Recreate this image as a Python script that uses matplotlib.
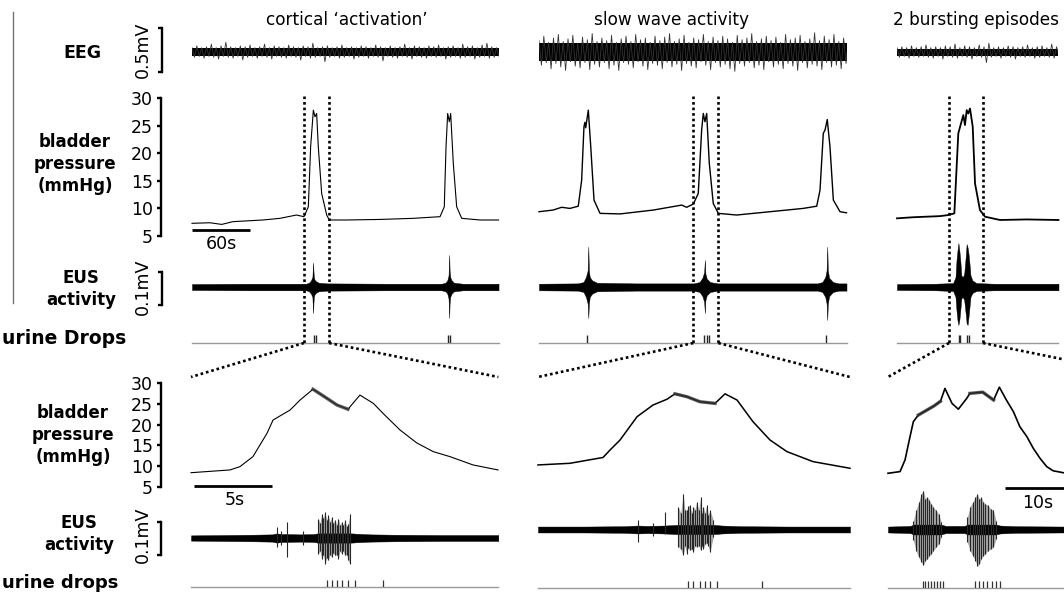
import numpy as np
import matplotlib
matplotlib.use("Agg")
import matplotlib.pyplot as plt
from matplotlib.lines import Line2D

plt.rcParams['font.family'] = ['DejaVu Sans']

# ---------------------------------------------------------------- data
titles = ["cortical \u2018activation\u2019", "slow wave activity", "2 bursting episodes"]
top_dur = [317, 318, 167]          # s shown in upper traces
bot_dur = [19.7, 20.0, 41.0]       # s shown in expanded traces
zoom_win = [(115.8, 141.7), (159.6, 185.4), (53.8, 88.9)]   # s, windows expanded below

# EEG envelope (mV), read every 5 s, and dense core half-width (mV)
eeg_step = 5.0
eeg_core = [0.042, 0.1, 0.04]
eeg1_up = [0.05,0.07,0.05,0.06,0.09,0.05,0.07,0.11,0.06,0.05,0.07,0.06,0.08,0.05,0.06,0.09,0.05,0.07,0.06,0.05,0.08,0.06,0.05,0.07,0.06,0.10,0.05,0.06,0.07,0.05,0.06,0.08,0.05,0.06,0.05,0.07,0.06,0.05,0.08,0.06,0.05,0.07,0.05,0.06,0.09,0.05,0.07,0.06,0.05,0.07,0.06,0.08,0.05,0.06,0.07,0.05,0.09,0.06,0.07,0.05,0.08,0.10,0.06,0.05,0.06]
eeg1_dn = [0.06,0.05,0.07,0.05,0.06,0.08,0.05,0.06,0.07,0.05,0.09,0.06,0.05,0.07,0.05,0.06,0.08,0.05,0.06,0.07,0.05,0.06,0.09,0.05,0.07,0.06,0.05,0.11,0.06,0.05,0.07,0.06,0.05,0.08,0.06,0.05,0.07,0.05,0.06,0.10,0.05,0.06,0.07,0.05,0.06,0.08,0.05,0.06,0.07,0.05,0.06,0.05,0.08,0.06,0.05,0.07,0.06,0.05,0.08,0.06,0.05,0.07,0.06,0.05,0.06]
eeg2_up = [0.13,0.18,0.11,0.16,0.20,0.12,0.15,0.19,0.10,0.17,0.14,0.21,0.12,0.16,0.13,0.19,0.11,0.15,0.18,0.12,0.20,0.14,0.16,0.11,0.18,0.13,0.17,0.21,0.12,0.15,0.19,0.11,0.16,0.14,0.20,0.12,0.17,0.13,0.18,0.15,0.11,0.19,0.14,0.16,0.21,0.12,0.15,0.18,0.13,0.17,0.11,0.20,0.14,0.16,0.19,0.12,0.15,0.22,0.13,0.18,0.14,0.20,0.12,0.16,0.15]
eeg2_dn = [0.15,0.12,0.19,0.13,0.17,0.21,0.11,0.16,0.18,0.12,0.20,0.14,0.17,0.12,0.19,0.15,0.21,0.12,0.14,0.18,0.11,0.16,0.20,0.13,0.15,0.19,0.12,0.17,0.14,0.21,0.13,0.16,0.18,0.11,0.15,0.20,0.12,0.17,0.14,0.19,0.22,0.13,0.16,0.12,0.18,0.15,0.20,0.11,0.17,0.14,0.19,0.13,0.16,0.21,0.12,0.18,0.14,0.16,0.20,0.12,0.17,0.15,0.19,0.13,0.14]
eeg3_up = [0.05,0.06,0.05,0.07,0.05,0.06,0.08,0.05,0.06,0.05,0.07,0.06,0.09,0.05,0.07,0.06,0.05,0.08,0.06,0.10,0.05,0.06,0.05,0.07,0.06,0.05,0.06,0.08,0.05,0.06,0.07,0.05,0.09,0.06,0.05]
eeg3_dn = [0.06,0.05,0.07,0.05,0.06,0.05,0.06,0.07,0.05,0.08,0.05,0.06,0.07,0.05,0.06,0.08,0.05,0.06,0.12,0.06,0.05,0.07,0.05,0.06,0.08,0.05,0.06,0.05,0.07,0.06,0.05,0.06,0.07,0.05,0.06]

# bladder pressure, upper traces (s, mmHg)
p1_top_t = [0, 18.6, 30.7, 42.4, 73.4, 91, 108, 115.8, 120.3, 122.7, 125.5, 127.2, 128.9, 130.6, 134.1, 139.3, 142, 160, 194.4, 228.8, 256.5, 260.9, 262.7, 264.4, 266.1, 267.5, 270.2, 273.7, 278.9, 297.8, 317]
p1_top_v = [7.3, 7.4, 7.1, 7.6, 7.9, 8.2, 8.8, 8.5, 10.3, 21.2, 27.8, 26.6, 27.2, 21.2, 12.7, 8.8, 7.9, 7.9, 8.0, 8.2, 8.5, 10.3, 21.2, 27.2, 25.7, 27.2, 18.2, 10.3, 8.2, 7.9, 7.9]
p2_top_t = [0, 14.5, 23.4, 32, 40.6, 44.1, 46.5, 47.5, 48.3, 51, 53.5, 56.9, 63.1, 83.8, 118.2, 147.6, 152.7, 159.6, 164.7, 168.2, 169.9, 171.6, 173.4, 176.1, 180.2, 185.4, 204.4, 238.9, 273.3, 287.2, 290.6, 294, 295.8, 298.1, 300.9, 304.4, 311.3, 318]
p2_top_v = [9.4, 9.7, 10.2, 10.0, 10.4, 15.1, 24.8, 25.6, 24.6, 27.8, 21.2, 11.5, 9.1, 9.0, 9.7, 10.6, 10.2, 10.8, 12.7, 24.2, 27.2, 25.7, 27.2, 18.2, 10.9, 9.1, 8.8, 9.4, 10.0, 10.4, 13.3, 23.6, 24.2, 26.1, 21.2, 11.5, 9.4, 9.2]
p3_top_t = [0, 16.9, 30.7, 44.5, 53.1, 59.3, 61.7, 63.4, 66.2, 68.6, 70.3, 72.1, 73.7, 75.5, 78.3, 80.7, 85.8, 91, 106.5, 134.1, 167]
p3_top_v = [8.2, 8.4, 8.5, 8.6, 8.8, 9.1, 17.6, 23.6, 25.4, 26.9, 25.1, 27.8, 27.2, 28.1, 24.8, 14.5, 9.7, 8.5, 7.9, 8.0, 7.9]

# EUS envelope, upper traces (s, mV)
eus1_top_t  = [0, 60, 118, 121, 123, 124.5, 125.2, 125.6, 126.0, 126.8, 128, 131, 140, 200, 258, 262, 264, 265.3, 266.0, 266.4, 267.0, 268.5, 271, 280, 317]
eus1_top_up = [.009, .010, .010, .013, .02, .03, .074, .05, .03, .022, .018, .013, .011, .010, .010, .013, .02, .035, .097, .05, .03, .02, .013, .010, .010]
eus1_top_dn = [.009, .010, .010, .013, .02, .03, .079, .05, .03, .022, .018, .013, .011, .010, .010, .013, .02, .035, .094, .05, .03, .02, .013, .010, .010]
eus2_top_t  = [0, 40, 46, 48.5, 50.3, 51, 51.6, 52.5, 55, 60, 100, 160, 166, 169, 170.8, 171.5, 172.1, 173.5, 177, 185, 240, 288, 293, 296, 297.4, 298.1, 298.7, 300, 304, 310, 318]
eus2_top_up = [.010, .011, .015, .03, .05, .122, .05, .03, .02, .013, .011, .011, .015, .028, .045, .082, .04, .025, .015, .011, .011, .011, .015, .03, .05, .122, .05, .028, .015, .011, .011]
eus2_top_dn = [.010, .011, .015, .03, .05, .094, .05, .03, .02, .013, .011, .011, .015, .028, .045, .079, .04, .025, .015, .011, .011, .011, .015, .03, .05, .10, .05, .028, .015, .011, .011]
eus3_top_t  = [0, 40, 58, 60.5, 61.5, 62.5, 63.5, 64.5, 65.5, 66.5, 68, 69.5, 71, 72, 73, 74, 75, 76, 78, 82, 100, 167]
eus3_top_up = [.009, .010, .012, .03, .08, .11, .133, .11, .08, .035, .03, .04, .09, .13, .12, .10, .07, .035, .02, .012, .010, .010]
eus3_top_dn = [.009, .010, .012, .03, .07, .10, .115, .10, .07, .035, .03, .04, .08, .11, .115, .09, .06, .03, .018, .012, .010, .010]

# urine drops, upper traces (s)
drops1_top = [126.6, 128.6, 265.0, 266.8]
drops2_top = [49.3, 171.0, 173.4, 175.8, 296.8]
drops3_top = [63.8, 65.5, 72.0, 74.5]

# bladder pressure, expanded traces (s, mmHg)
p1_bot_t = [0, 2.5, 3.14, 3.97, 4.87, 5.26, 6.35, 6.99, 7.82, 8.72, 9.36, 10.06, 10.83, 11.69, 12.31, 13.4, 14.47, 15.53, 16.6, 18.08, 19.68]
p1_bot_v = [8.44, 9.1, 9.9, 12.3, 17.9, 21.1, 23.5, 25.9, 28.5, 26.3, 24.7, 23.7, 27.1, 25.1, 22.7, 18.7, 15.6, 13.5, 12.3, 10.3, 9.1]
p2_bot_t = [0, 2.05, 4.17, 4.62, 5.26, 6.35, 7.37, 8.27, 8.78, 9.55, 10.38, 11.35, 11.99, 12.76, 13.78, 14.87, 15.96, 17.63, 20.0]
p2_bot_v = [10.3, 10.7, 12.1, 13.9, 16.3, 21.9, 24.7, 26.1, 27.4, 26.7, 25.5, 25.1, 27.4, 25.9, 20.7, 16.3, 13.5, 11.1, 9.5]
p3_bot_t = [0, 1.88, 2.66, 3.44, 3.96, 4.74, 6.09, 7.2, 8.2, 8.9, 10.0, 10.99, 12.3, 12.8, 14.8, 16.5, 17.4, 18.5, 19.6, 20.6, 21.7, 22.7, 23.75, 24.8, 25.8, 27.5, 30]
p3_bot_v = [8.3, 8.7, 11.5, 17.1, 20.7, 22.3, 23.5, 24.5, 25.6, 28.7, 25.1, 23.7, 26.3, 27.5, 27.8, 25.9, 29.0, 25.9, 23.1, 19.5, 17.1, 14.3, 11.9, 9.9, 8.9, 8.4, 8.2]
ripple_bot = [[(7.82, 10.06)], [(8.78, 11.35)], [(4.74, 8.2), (12.8, 16.5)]]

# EUS, expanded traces: background band (s, mV half-width)
eus1_bot_core_t = [0, 2, 4, 5.2, 5.5, 5.8, 6.2, 7, 7.9, 8.1, 10.3, 10.6, 11.5, 13, 16, 19.7]
eus1_bot_core_h = [0.008, 0.009, 0.010, 0.011, 0.014, 0.012, 0.012, 0.011, 0.012, 0.014, 0.014, 0.013, 0.011, 0.010, 0.009, 0.009]
eus2_bot_core_t = [0, 3, 5.5, 6.4, 7, 8.1, 8.9, 11.3, 11.8, 13, 16, 20]
eus2_bot_core_h = [0.009, 0.009, 0.010, 0.012, 0.011, 0.012, 0.014, 0.014, 0.012, 0.010, 0.009, 0.009]
eus3_bot_core_t = [0, 2, 3.5, 4, 8.3, 9, 12, 12.4, 16.9, 17.5, 20, 27.5, 32]
eus3_bot_core_h = [0.009, 0.010, 0.011, 0.015, 0.015, 0.011, 0.011, 0.015, 0.015, 0.012, 0.010, 0.009, 0.009]
# EUS spikes (s, mV up, mV down)
eus1_spk_t  = [5.49, 5.8, 6.17, 7.2, 8.16, 8.27, 8.38, 8.49, 8.59, 8.70, 8.80, 8.91, 9.02, 9.12, 9.23, 9.34, 9.44, 9.55, 9.66, 9.76, 9.87, 9.98, 10.08, 10.19]
eus1_spk_up = [0.033, 0.02, 0.048, 0.02, 0.059, 0.045, 0.074, 0.06, 0.079, 0.055, 0.069, 0.05, 0.064, 0.045, 0.054, 0.04, 0.059, 0.04, 0.048, 0.04, 0.054, 0.035, 0.043, 0.074]
eus1_spk_dn = [0.027, 0.02, 0.058, 0.02, 0.047, 0.04, 0.063, 0.05, 0.078, 0.06, 0.068, 0.05, 0.058, 0.045, 0.053, 0.05, 0.063, 0.04, 0.047, 0.04, 0.053, 0.05, 0.068, 0.078]
eus2_spk_t  = [6.43, 7.4, 8.14, 8.99, 9.15, 9.31, 9.42, 9.53, 9.63, 9.74, 9.85, 9.96, 10.06, 10.17, 10.30, 10.43, 10.52, 10.60, 10.70, 10.81, 10.92, 11.03, 11.24]
eus2_spk_up = [0.030, 0.02, 0.053, 0.069, 0.05, 0.109, 0.06, 0.058, 0.07, 0.074, 0.05, 0.069, 0.06, 0.084, 0.06, 0.099, 0.05, 0.069, 0.05, 0.074, 0.045, 0.058, 0.028]
eus2_spk_dn = [0.037, 0.02, 0.015, 0.052, 0.06, 0.078, 0.05, 0.073, 0.055, 0.063, 0.06, 0.068, 0.05, 0.052, 0.05, 0.063, 0.05, 0.058, 0.045, 0.042, 0.05, 0.068, 0.022]
eus3_spk_t  = [3.96, 4.38, 4.79, 5.21, 5.52, 5.83, 6.15, 6.46, 6.77, 7.08, 7.5, 7.92, 8.33,
               12.40, 12.81, 13.23, 13.65, 13.96, 14.27, 14.58, 14.90, 15.21, 15.63, 16.04, 16.46, 16.88]
eus3_spk_up = [0.027, 0.058, 0.083, 0.108, 0.118, 0.093, 0.098, 0.088, 0.078, 0.068, 0.058, 0.047, 0.022,
               0.037, 0.068, 0.083, 0.098, 0.108, 0.093, 0.098, 0.083, 0.078, 0.073, 0.063, 0.058, 0.027]
eus3_spk_dn = [0.033, 0.064, 0.084, 0.099, 0.109, 0.094, 0.089, 0.079, 0.074, 0.064, 0.054, 0.043, 0.023,
               0.038, 0.064, 0.079, 0.094, 0.112, 0.104, 0.089, 0.079, 0.074, 0.064, 0.059, 0.054, 0.028]
eus_bursts = [[(8.1, 10.25)], [(8.95, 11.3)], [(3.9, 8.4), (12.35, 16.95)]]

# urine drops, expanded traces (s)
drops1_bot = [8.72, 9.04, 9.36, 9.68, 10.06, 10.51, 12.31]
drops2_bot = [9.62, 9.94, 10.38, 10.71, 11.03, 11.47, 14.36]
drops3_bot = [5.42, 5.83, 6.25, 6.67, 7.19, 7.61, 8.13, 8.64, 13.59, 14.22, 14.89, 15.52, 16.2, 16.83, 17.5]

# ---------------------------------------------------------------- layout
W, H = 1064, 593
fig = plt.figure(figsize=(W / 100, H / 100), dpi=100)

top_x0 = [192, 539, 897]
top_pxs = 0.967                  # px per s (upper)
bot_x0 = [191, 538, 888]
bot_pxs = [15.6, 15.6, 6.4]      # px per s (expanded)


def px_axes(x0, y0, x1, y1):
    ax = fig.add_axes([x0 / W, 1 - y1 / H, (x1 - x0) / W, (y1 - y0) / H])
    ax.patch.set_alpha(0)
    for s in ax.spines.values():
        s.set_visible(False)
    ax.set_xticks([])
    ax.set_yticks([])
    return ax


def ftext(x, y, s, **kw):
    fig.text(x / W, 1 - y / H, s, **kw)


def left_bracket(ax, offset_px, ticks, labels=None, size=12.5):
    sp = ax.spines['left']
    sp.set_visible(True)
    sp.set_position(('outward', offset_px * 0.72))
    sp.set_linewidth(1.7)
    ax.set_yticks(ticks)
    if labels is None:
        ax.set_yticklabels([])
    else:
        ax.set_yticklabels(labels, fontsize=size)
    ax.tick_params(axis='y', direction='out', length=2.8, width=1.7, pad=3.2)


def fill_env(ax, t, up, dn, color='black', lw=0.3):
    t = np.asarray(t, float)
    ax.fill_between(t, -np.asarray(dn), np.asarray(up), color=color,
                    lw=lw, edgecolor=color, clip_on=False)


eeg_sets = [(eeg1_up, eeg1_dn), (eeg2_up, eeg2_dn), (eeg3_up, eeg3_dn)]
ptop_sets = [(p1_top_t, p1_top_v), (p2_top_t, p2_top_v), (p3_top_t, p3_top_v)]
eustop_sets = [(eus1_top_t, eus1_top_up, eus1_top_dn), (eus2_top_t, eus2_top_up, eus2_top_dn),
               (eus3_top_t, eus3_top_up, eus3_top_dn)]
drops_top = [drops1_top, drops2_top, drops3_top]
pbot_sets = [(p1_bot_t, p1_bot_v), (p2_bot_t, p2_bot_v), (p3_bot_t, p3_bot_v)]
eusbot_core = [(eus1_bot_core_t, eus1_bot_core_h), (eus2_bot_core_t, eus2_bot_core_h),
               (eus3_bot_core_t, eus3_bot_core_h)]
eusbot_spk = [(eus1_spk_t, eus1_spk_up, eus1_spk_dn), (eus2_spk_t, eus2_spk_up, eus2_spk_dn),
              (eus3_spk_t, eus3_spk_up, eus3_spk_dn)]
drops_bot = [drops1_bot, drops2_bot, drops3_bot]
p_lw_top = [0.8, 1.0, 1.3]
p_lw_bot = [0.8, 1.1, 1.2]
title_x = [347, 672, 976]

press_top_axes, press_bot_axes = [], []

for i in range(3):
    x0 = top_x0[i]
    x1 = x0 + top_dur[i] * top_pxs
    ftext(title_x[i], 20, titles[i], ha='center', va='center', fontsize=12.2)

    # EEG
    ax = px_axes(x0, 28, x1, 72)
    ax.set_xlim(0, top_dur[i])
    ax.set_ylim(-0.227, 0.273)
    up, dn = eeg_sets[i]
    n = len(up)
    tz = np.arange(2 * n) * (eeg_step / 2)
    zz = np.empty(2 * n)
    zz[0::2] = up
    zz[1::2] = -np.asarray(dn)
    ax.plot(tz, zz, color='0.2', lw=0.6)
    ax.fill_between([0, top_dur[i]], -eeg_core[i], eeg_core[i], color='black', lw=0)
    if i == 0:
        left_bracket(ax, 30, [-0.227, 0.273])

    # bladder pressure
    ax = px_axes(x0, 98, x1, 236)
    ax.set_xlim(0, top_dur[i])
    ax.set_ylim(5, 30)
    t, v = ptop_sets[i]
    ax.plot(t, v, color='black', lw=p_lw_top[i], clip_on=False)
    if i == 0:
        left_bracket(ax, 31, [5, 10, 15, 20, 25, 30], ['5', '10', '15', '20', '25', '30'])
        ax.plot([0, 60], [6.1, 6.1], color='black', lw=2.0, clip_on=False, solid_capstyle='butt')
        ax.text(30, 3.6, '60s', ha='center', va='center', fontsize=12.5)
    press_top_axes.append(ax)

    # EUS
    ax = px_axes(x0, 272, x1, 305)
    ax.set_xlim(0, top_dur[i])
    ax.set_ylim(-0.0545, 0.0455)
    t, up, dn = eustop_sets[i]
    fill_env(ax, t, up, dn)
    if i == 0:
        left_bracket(ax, 30, [-0.0545, 0.0455])

    # urine drops
    ax = px_axes(x0, 330, x1, 343)
    ax.set_xlim(0, top_dur[i])
    ax.set_ylim(0, 1)
    ax.plot([0, top_dur[i]], [0, 0], color='0.6', lw=1.0, clip_on=False)
    ax.vlines(drops_top[i], 0, 0.62, color='0.15', lw=1.0)

    # ---------------- expanded traces
    bx0 = bot_x0[i]
    bx1 = bx0 + bot_dur[i] * bot_pxs[i]
    ax = px_axes(bx0, 383, bx1, 487)
    ax.set_xlim(0, bot_dur[i])
    ax.set_ylim(5, 30)
    t, v = pbot_sets[i]
    ax.plot(t, v, color='black', lw=p_lw_bot[i], clip_on=False)
    t_arr = np.asarray(t)
    v_arr = np.asarray(v)
    for (a, b) in ripple_bot[i]:
        m = (t_arr >= a) & (t_arr <= b)
        ax.plot(t_arr[m], v_arr[m], color='0.2', lw=2.4, clip_on=False, alpha=0.8)
    if i == 0:
        left_bracket(ax, 30, [5, 10, 15, 20, 25, 30], ['5', '10', '15', '20', '25', '30'])
        ax.plot([0.2, 5.2], [5.24, 5.24], color='black', lw=2.0, clip_on=False, solid_capstyle='butt')
        ax.text(2.8, 1.9, '5s', ha='center', va='center', fontsize=12.5, clip_on=False)
    if i == 2:
        ax.plot([18.3, 28.3], [4.76, 4.76], color='black', lw=2.0, clip_on=False, solid_capstyle='butt')
        ax.text(23.4, 1.15, '10s', ha='center', va='center', fontsize=12.5, clip_on=False)
    press_bot_axes.append(ax)

    # EUS expanded
    yoff = 0 if i == 0 else -8.5
    ax = px_axes(bx0, 522 + yoff, bx1, 555 + yoff)
    ax.set_xlim(0, bot_dur[i])
    ax.set_ylim(-0.0515, 0.0485)
    st, sup, sdn = [np.asarray(a, float) for a in eusbot_spk[i]]
    for (a, b) in eus_bursts[i]:
        m = (st >= a) & (st <= b)
        ax.fill_between(st[m], -sdn[m], sup[m], color='0.65', lw=0, clip_on=False)
    ct, ch = eusbot_core[i]
    fill_env(ax, ct, ch, ch)
    ax.vlines(st, -sdn, sup, color='0.15', lw=0.8, clip_on=False)
    if i == 0:
        left_bracket(ax, 30, [-0.0515, 0.0485])

    # urine drops expanded
    ub = 587 if i == 0 else 588
    ax = px_axes(bx0, ub - 12, bx1, ub)
    ax.set_xlim(0, bot_dur[i])
    ax.set_ylim(0, 1)
    ax.plot([0, bot_dur[i]], [0, 0], color='0.6', lw=1.0, clip_on=False)
    ax.vlines(drops_bot[i], 0, 0.6, color='0.2', lw=0.9)

# ---------------------------------------------------------------- row labels
bold = dict(ha='center', va='center', fontsize=12, fontweight='bold')
ftext(82, 53, 'EEG', **dict(bold, fontsize=12.5))
ftext(75, 164, 'bladder\npressure\n(mmHg)', linespacing=1.3, **bold)
ftext(81, 289, 'EUS\nactivity', linespacing=1.3, **bold)
ftext(2, 338, 'urine Drops', ha='left', va='center', fontsize=13.5, fontweight='bold')
ftext(73, 435, 'bladder\npressure\n(mmHg)', linespacing=1.3, **bold)
ftext(79, 534, 'EUS\nactivity', linespacing=1.35, **bold)
ftext(2, 583, 'urine drops', ha='left', va='center', fontsize=13, fontweight='bold')
ftext(143, 50, '0.5mV', rotation=90, ha='center', va='center', fontsize=12.5)
ftext(143, 287, '0.1mV', rotation=90, ha='center', va='center', fontsize=12.5)
ftext(143, 535, '0.1mV', rotation=90, ha='center', va='center', fontsize=12.5)

fig.add_artist(Line2D([13 / W, 13 / W], [1 - 12 / H, 1 - 303 / H], color='0.45', lw=1.0))

# ---------------------------------------------------------------- zoom connectors
inv = fig.transFigure.inverted()
dot = dict(color='black', lw=1.9, linestyle=(0, (1, 1.1)))
for i in range(3):
    axp = press_top_axes[i]
    axb = press_bot_axes[i]
    for k, t in enumerate(zoom_win[i]):
        xd = axp.transData.transform((t, 0))[0]
        xf = inv.transform((xd, 0))[0]
        ytop = 1 - 96 / H
        ybot = 1 - 343 / H
        fig.add_artist(Line2D([xf, xf], [ytop, ybot], **dot))
        bb = axb.get_position()
        xe = bb.x0 if k == 0 else bb.x1
        fig.add_artist(Line2D([xf, xe], [ybot, 1 - 377 / H], **dot))

fig.savefig('out.png', dpi=100)
